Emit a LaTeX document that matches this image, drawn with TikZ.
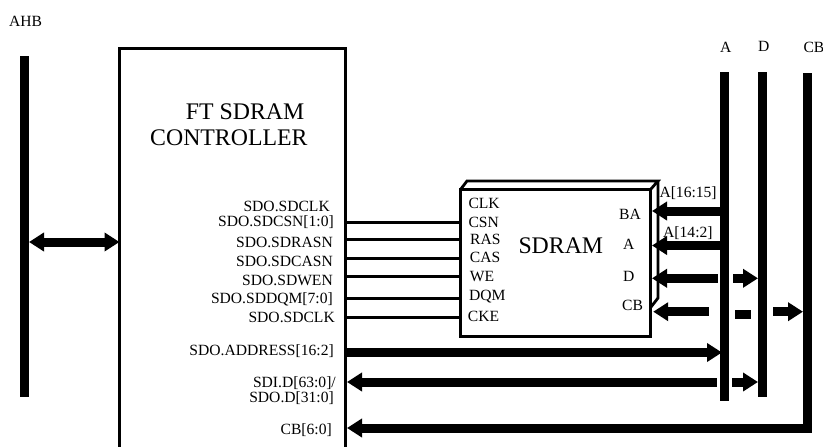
\documentclass[tikz,border=0pt]{standalone}
\usepackage{fontspec}
\setmainfont{Liberation Serif}
\usetikzlibrary{arrows.meta}
\tikzset{
  bar/.style={fill=black,inner sep=0pt,outer sep=0pt,minimum width=9pt},
  wire/.style={line width=3pt},
  bus/.style={line width=9pt},
  busarrow/.style={line width=9pt,-{Triangle[length=15pt,width=18pt]}},
  busback/.style={line width=9pt,{Triangle[length=15pt,width=18pt]}-},
  boxline/.style={line width=2.8pt,line join=miter},
  lbl/.style={font=\fontsize{15.6}{18}\selectfont,inner sep=0pt},
  big/.style={font=\fontsize{23.8}{28}\selectfont,inner sep=0pt}
}
\begin{document}
\begin{tikzpicture}[x=1pt,y=-1pt]
\useasboundingbox (0,0) rectangle (823,447);
% buses
\node[bar,minimum height=341pt] (ahb) at (24.5,226.5) {};
\node[bar,minimum height=329pt] (busA) at (724.5,236.5) {};
\node[bar,minimum height=325pt] (busD) at (762.5,234.5) {};
\node[bar,minimum height=360pt] (busCB) at (807.5,253) {};
% controller (open at the bottom)
\node[inner sep=0pt,outer sep=0pt,minimum width=226pt,minimum height=398.5pt] (ctrl) at (232.5,247.75) {};
\draw[boxline] (ctrl.south west) -- (ctrl.north west) -- (ctrl.north east) -- (ctrl.south east);
% SDRAM
\node[draw,boxline,fill=white,inner sep=0pt,outer sep=0pt,minimum width=190pt,minimum height=147pt] (sdram) at (555.5,263) {};
\coordinate (backTL) at (467,181);
\coordinate (backTR) at (658,181);
\coordinate (backBR) at (658,298);
\draw[boxline] (sdram.north west) -- (backTL) -- (backTR) -- (sdram.north east);
\draw[boxline] (backTR) -- (backBR) -- (651,307);
% labels
\node[lbl,anchor=base west] (tAHB) at (9,27) {AHB};
\node[big,anchor=base west] (t1) at (185.7,119) {FT SDRAM};
\node[big,anchor=base west] (t2) at (150,145.7) {CONTROLLER};
\node[lbl,anchor=base east] (l1) at (330,211.7) {SDO.SDCLK};
\node[lbl,anchor=base east] (l2) at (334,226.7) {SDO.SDCSN[1:0]};
\node[lbl,anchor=base east] (l3) at (333,247.3) {SDO.SDRASN};
\node[lbl,anchor=base east] (l4) at (333,266.7) {SDO.SDCASN};
\node[lbl,anchor=base east] (l5) at (333,285) {SDO.SDWEN};
\node[lbl,anchor=base east] (l6) at (333,303.3) {SDO.SDDQM[7:0]};
\node[lbl,anchor=base east] (l7) at (335,322.3) {SDO.SDCLK};
\node[lbl,anchor=base east] (l8) at (334,355) {SDO.ADDRESS[16:2]};
\node[lbl,anchor=base east] (l9) at (336,387.3) {SDI.D[63:0]/};
\node[lbl,anchor=base east] (l10) at (334,402.3) {SDO.D[31:0]};
\node[lbl,anchor=base east] (l11) at (332,434.3) {CB[6:0]};
\node[big,anchor=base west] (tS) at (518.3,253.3) {SDRAM};
\node[lbl,anchor=base west] (p1) at (468.3,208.3) {CLK};
\node[lbl,anchor=base west] (p2) at (468.3,227.3) {CSN};
\node[lbl,anchor=base west] (p3) at (470,244) {RAS};
\node[lbl,anchor=base west] (p4) at (469.7,262.7) {CAS};
\node[lbl,anchor=base west] (p5) at (469.7,281.7) {WE};
\node[lbl,anchor=base west] (p6) at (469,300) {DQM};
\node[lbl,anchor=base west] (p7) at (467.7,321.7) {CKE};
\node[lbl,anchor=base west] (r1) at (619,219) {BA};
\node[lbl,anchor=base west] (r2) at (623,249.3) {A};
\node[lbl,anchor=base west] (r3) at (623,281) {D};
\node[lbl,anchor=base west] (r4) at (622,310.7) {CB};
\node[lbl,anchor=base west] (a1) at (659.3,197.3) {A[16:15]};
\node[lbl,anchor=base west] (a2) at (663,237.3) {A[14:2]};
\node[lbl,anchor=base west] (tA) at (720,52.7) {A};
\node[lbl,anchor=base west] (tD) at (758,52) {D};
\node[lbl,anchor=base west] (tC) at (803.3,52.7) {CB};
% control wires
\foreach \yy in {222.3,239.7,258.7,276.7,298.3,317}
  \draw[wire] (ctrl.east |- 0,\yy) -- (sdram.west |- 0,\yy);
% AHB link
\draw[bus,{Triangle[length=15pt,width=18pt]}-{Triangle[length=15pt,width=18pt]}] (ahb.east |- 0,242) -- (ctrl.west |- 0,242);
% address and data
\draw[busarrow,shorten <=1.5pt] (ctrl.east |- 0,352.5) -- (722,352.5) coordinate (addrEnd);
\coordinate (dGapL) at (717,382);
\coordinate (dGapR) at (732,382);
\draw[busback,shorten <=1.5pt] (ctrl.east |- dGapL) -- (dGapL);
\draw[busarrow] (dGapR) -- (busD.west |- dGapR);
\draw[busback,shorten <=1.5pt] (ctrl.east |- 0,428) -- (busCB.east |- 0,428);
% SDRAM right side
\draw[busback,shorten <=1.5pt] (sdram.east |- 0,211) -- (busA.west |- 0,211);
\draw[busback,shorten <=1.5pt] (sdram.east |- 0,245.5) -- (busA.west |- 0,245.5);
\coordinate (dAL) at (717.7,278.3);
\coordinate (dAR) at (733,278.3);
\draw[busback,shorten <=1.5pt] (sdram.east |- dAL) -- (dAL);
\draw[busarrow] (dAR) -- (busD.west |- dAR);
\coordinate (cL) at (708.7,311.7);
\coordinate (cM1) at (735,314);
\coordinate (cM2) at (751,314);
\coordinate (cR) at (773,311.7);
\draw[busback,shorten <=2.7pt] (sdram.east |- cL) -- (cL);
\draw[bus] (cM1) -- (cM2);
\draw[busarrow] (cR) -- (busCB.west |- cR);
\end{tikzpicture}
\end{document}
